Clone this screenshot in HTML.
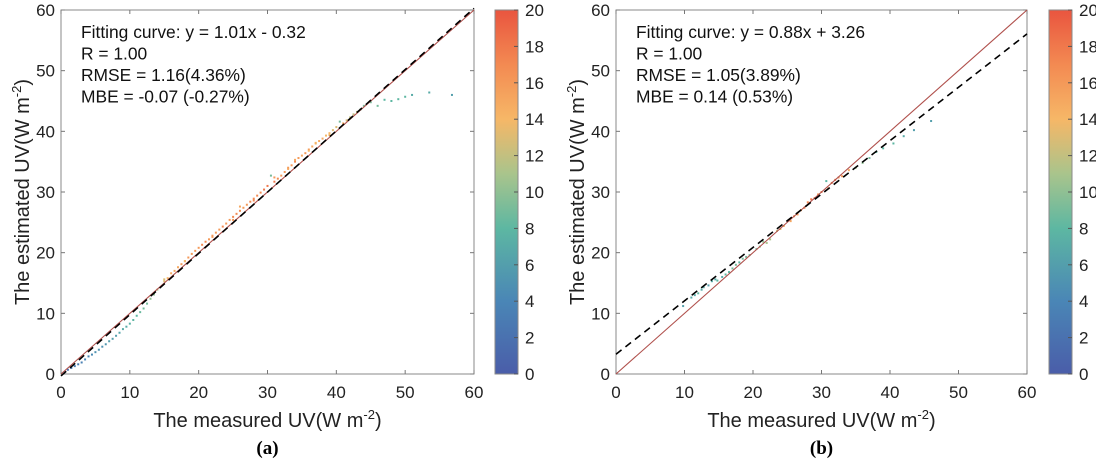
<!DOCTYPE html>
<html><head><meta charset="utf-8"><style>
html,body{margin:0;padding:0;background:#fff;}
svg{display:block;font-family:"Liberation Sans",Arial,sans-serif;}
</style></head><body>
<svg id="fig" width="1096" height="464" viewBox="0 0 1096 464" xmlns="http://www.w3.org/2000/svg">
<defs>
<linearGradient id="cmap" x1="0" y1="1" x2="0" y2="0">
<stop offset="0" stop-color="#4a5da9"/>
<stop offset="0.2" stop-color="#4a86b6"/>
<stop offset="0.4" stop-color="#5db7a2"/>
<stop offset="0.55" stop-color="#a9c48c"/>
<stop offset="0.7" stop-color="#f6b767"/>
<stop offset="0.85" stop-color="#f38a52"/>
<stop offset="1" stop-color="#e9553f"/>
</linearGradient>
</defs>
</svg>
<script>
// Panel (a) data
const aMeasured = [0.5,1,1.5,2,2.5,3,3.5,4,4.5,5,5.5,6,6.5,7,7.5,8,8.5,9,9.5,10,10.5,11,11.5,12,12.5,13,13.5,14,15,15.5,16,16.5,17,17.5,18,18.5,19,19.5,20,20.5,21,21.5,22,22.5,23,23.5,24,24.5,25,25.5,26,26.5,27,27.5,28,28.5,29,29.5,30,30.5,31,31.5,32,32.5,33,33.5,34,34.5,35,35.5,36,36.5,37,37.5,38,38.5,39,39.5,40,40.5,41,41.5,42,42.5,43,43.5,44,45,46,47,48,49,50,51,53.5,56.8,15,18,22,25,28,33,36,39,26,31,34,37];
const aEstimated = [0.3,0.7,1.0,1.3,1.6,1.9,2.4,2.9,3.2,3.6,4.0,4.5,4.9,5.4,5.8,6.3,6.8,7.4,7.8,8.3,8.9,9.6,10.2,10.8,11.6,12.4,13.1,13.9,15.3,15.8,16.6,17.0,17.6,18.1,18.6,19.2,19.8,20.3,20.8,21.3,21.8,22.2,22.6,23.3,23.8,24.3,24.8,25.4,25.9,26.4,26.9,27.4,27.9,28.4,28.9,29.4,29.9,30.4,31.0,32.7,31.7,32.2,32.7,33.3,34.0,34.4,35.0,35.6,36.0,36.4,37.0,37.5,38.0,38.4,38.8,39.3,39.7,40.2,40.7,41.6,41.3,41.8,42.3,42.8,43.2,43.6,44.2,44.8,44.2,45.2,45.0,45.3,45.7,46.0,46.4,46.0,15.6,18.6,22.8,25.4,28.6,33.8,36.8,39.4,27.6,32.4,35.3,38.1];
const aValue = [2,2,2.5,3,3,3.5,4,4,4.5,5,5,5,5.5,6,6,6,6.5,7,7,7.5,8,8,8.5,9,9,10,10,11,13,14,15,15,15,16,16,16,16,16,16,17,17,16,16,16,16,17,16,16,17,17,17,16,16,17,17,17,17,18,18,9,18,17,16,16,16,16,17,16,15,16,16,15,15,15,15,14,14,13,13,9,15,13,12,12,12,10,9,9,9,8,8,8,8,7,7,6,13,14,16,16,17,15,14,14,15,16,15,14];
// Panel (b) data
const bMeasured = [9.8,11,11.5,12,12.5,12.8,13.5,14,14.5,14.8,15.5,16,16.5,17,17.5,18,18.5,19,19.5,20.5,21,21.5,22,22.5,23.5,24,24.5,25.5,26,26.5,27,27.5,28,28.5,29,29.5,30,30.7,31,31.5,32,32.5,33,34,35,36,37,38,39,40.5,42,43.5,46];
const bEstimated = [11.2,12.6,13.0,13.3,13.9,14.3,14.6,15.3,15.6,15.4,16.0,16.4,16.8,17.4,18.0,18.4,19.0,19.3,19.6,20.6,21.0,21.8,21.6,22.2,23.6,23.9,24.4,25.2,26.0,26.3,27.0,27.4,28.3,28.8,29.0,29.6,30.0,31.8,30.6,31.5,32.0,32.4,32.6,33.6,34.0,34.8,35.6,36.6,37.2,38.0,39.2,40.2,41.7];
const bValue = [6,7,7,8,7,7,6,7,7,8,7,8,8,9,9,8,9,9,9,9,10,10,11,11,12,13,14,15,16,16,16,17,17,18,17,16,17,8,16,17,17,16,16,15,11,10,9,8,8,8,7,6,6];
const tickVals = [0,10,20,30,40,50,60];
const cbTicks = [0,2,4,6,8,10,12,14,16,18,20];
const fitA = [1.01,-0.32];
const fitB = [0.88,3.26];

const svg = document.getElementById('fig');
const NS = 'http://www.w3.org/2000/svg';
function mk(tag, attrs, parent){const e=document.createElementNS(NS,tag);for(const k in attrs)e.setAttribute(k,attrs[k]);(parent||svg).appendChild(e);return e;}
const stops=[[0,[74,93,169]],[4,[74,134,182]],[8,[93,183,162]],[11,[169,196,140]],[14,[246,183,103]],[17,[243,138,82]],[20,[233,85,63]]];
function cmap(v){v=Math.max(0,Math.min(20,v));for(let i=0;i<stops.length-1;i++){const a=stops[i],b=stops[i+1];if(v<=b[0]){const t=(v-a[0])/(b[0]-a[0]);const c=a[1].map((x,j)=>Math.round(x+(b[1][j]-x)*t));return `rgb(${c})`;}}return 'rgb(233,85,63)';}

function panel(L,R,cbL,mx,est,val,fit,label,texts,id){
  const T=10,B=374;
  const xs=v=>L+(R-L)*v/60, ys=v=>B-(B-T)*v/60;
  const g=mk('g',{});
  
  
  const box=mk('rect',{x:L,y:T,width:R-L,height:B-T,fill:'#fff',stroke:'#8a8a8a','stroke-width':1},g);
  
  
  tickVals.forEach(v=>{
    const x=xs(v),y=ys(v);
    mk('line',{x1:x,y1:B,x2:x,y2:B-4,stroke:'#777'},g);
    mk('line',{x1:x,y1:T,x2:x,y2:T+4,stroke:'#777'},g);
    mk('line',{x1:L,y1:y,x2:L+4,y2:y,stroke:'#777'},g);
    mk('line',{x1:R,y1:y,x2:R-4,y2:y,stroke:'#777'},g);
    const tx=mk('text',{x:x,y:B+24,'text-anchor':'middle','font-size':17,fill:'#222'},g);tx.textContent=v;
    
    
    const ty=mk('text',{x:L-6,y:y+6,'text-anchor':'end','font-size':17,fill:'#222'},g);ty.textContent=v;
    
    
  });
  mx.forEach((m,i)=>{
    const c=mk('rect',{x:xs(m)-1,y:ys(est[i])-1,width:2,height:2,fill:cmap(val[i])},g);
    
    
  });
  const one=mk('line',{x1:xs(0),y1:ys(0),x2:xs(60),y2:ys(60),stroke:'#b0504c','stroke-width':1.1},g);
  
  
  const fl=mk('line',{x1:xs(0),y1:ys(fit[1]),x2:xs(60),y2:ys(fit[0]*60+fit[1]),stroke:'#000','stroke-width':1.6,'stroke-dasharray':'7,5'},g);
  
  
  texts.forEach((t,i)=>{
    const e=mk('text',{x:L+20,y:T+28+i*21.5,'font-size':17.4,fill:'#111'},g);e.textContent=t;
    
    
  });
  const xt=mk('text',{x:(L+R)/2,y:B+53,'text-anchor':'middle','font-size':20,fill:'#222'},g);
  xt.innerHTML='The measured UV(W m<tspan dy="-8" font-size="13">-2</tspan><tspan dy="8">)</tspan>';
  
  
  const yt=mk('text',{x:0,y:0,'text-anchor':'middle','font-size':20,fill:'#222',transform:`translate(${L-32},${(T+B)/2}) rotate(-90)`},g);
  yt.innerHTML='The estimated UV(W m<tspan dy="-8" font-size="13">-2</tspan><tspan dy="8">)</tspan>';
  
  
  const lb=mk('text',{x:(L+R)/2,y:454,'text-anchor':'middle','font-size':19,'font-weight':'bold','font-family':'"Liberation Serif",serif',fill:'#000'},g);
  lb.textContent=label;
  
  
  const cb=mk('rect',{x:cbL,y:T,width:23,height:B-T,fill:'url(#cmap)',stroke:'#8a8a8a','stroke-width':1},g);
  
  
  cbTicks.forEach(v=>{
    const y=B-(B-T)*v/20;
    mk('line',{x1:cbL+23,y1:y,x2:cbL+19,y2:y,stroke:'#555'},g);
    const t=mk('text',{x:cbL+30,y:y+6,'font-size':17,fill:'#222'},g);t.textContent=v;
    
    
  });
}
panel(61,474,495,aMeasured,aEstimated,aValue,fitA,'(a)',['Fitting curve: y = 1.01x - 0.32','R = 1.00','RMSE = 1.16(4.36%)','MBE = -0.07 (-0.27%)'],'a');
panel(616,1027,1049,bMeasured,bEstimated,bValue,fitB,'(b)',['Fitting curve: y = 0.88x + 3.26','R = 1.00','RMSE = 1.05(3.89%)','MBE = 0.14 (0.53%)'],'b');
</script>
</body></html>
